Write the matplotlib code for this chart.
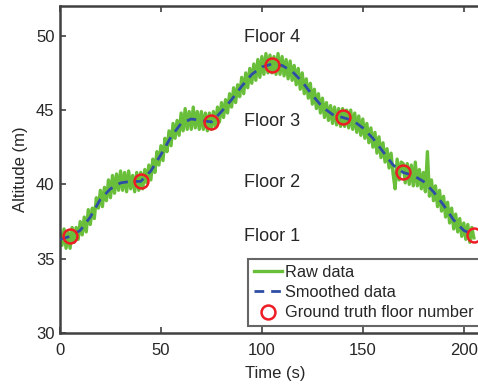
import numpy as np
import matplotlib
matplotlib.use("Agg")
import matplotlib.pyplot as plt

# raw barometer altitude, one sample per second (t = 0..205)
raw_alt = [
    36.8, 35.9, 37.0, 35.7, 36.8, 35.7, 37.1, 36.1, 37.1, 36.3,
    37.5, 36.6, 37.8, 36.8, 38.3, 37.3, 38.4, 37.7, 39.1, 38.4,
    39.6, 38.5, 39.8, 38.9, 40.3, 39.1, 40.6, 39.4, 40.7, 39.6,
    40.9, 39.6, 40.8, 39.5, 40.9, 39.7, 40.6, 39.5, 40.8, 39.6,
    40.8, 39.7, 41.0, 40.1, 41.3, 40.3, 41.7, 40.8, 42.2, 41.3,
    42.6, 41.6, 43.1, 42.2, 43.6, 42.6, 44.1, 43.1, 44.3, 43.3,
    44.8, 43.6, 45.1, 43.7, 44.9, 43.7, 45.2, 43.8, 44.9, 43.7,
    44.9, 43.7, 44.8, 43.6, 44.8, 43.7, 44.9, 43.9, 45.2, 44.2,
    45.5, 44.5, 45.7, 44.8, 46.1, 45.2, 46.5, 45.5, 46.7, 45.9,
    47.2, 46.1, 47.5, 46.5, 47.8, 46.8, 48.1, 47.0, 48.4, 47.2,
    48.6, 47.4, 48.8, 47.5, 48.7, 47.5, 48.6, 47.4, 48.8, 47.4,
    48.6, 47.3, 48.4, 47.1, 48.3, 47.0, 48.0, 46.7, 47.8, 46.4,
    47.5, 46.1, 47.1, 45.8, 46.8, 45.4, 46.4, 45.1, 46.1, 44.8,
    45.8, 44.5, 45.5, 44.3, 45.3, 44.1, 45.2, 44.0, 45.1, 43.9,
    45.1, 43.9, 45.0, 43.8, 45.0, 43.7, 44.8, 43.5, 44.6, 43.3,
    44.4, 43.1, 44.1, 42.8, 43.8, 42.5, 43.5, 42.1, 43.2, 41.8,
    42.8, 41.5, 42.4, 41.1, 42.1, 40.7, 39.7, 41.7, 40.3, 41.5,
    41.4, 40.1, 41.4, 40.0, 41.3, 39.9, 41.5, 39.9, 41.0, 39.7,
    40.8, 39.5, 42.2, 39.2, 40.3, 38.9, 39.9, 38.5, 39.6, 38.2,
    39.2, 37.8, 38.8, 37.4, 38.4, 37.0, 38.0, 36.8, 37.7, 36.5,
    37.4, 36.3, 37.3, 36.1, 37.1, 36.4,
]
raw_t = np.arange(len(raw_alt))

# smoothed altitude every 5 s
smooth_t = list(range(0, 206, 5))
smooth_alt = [
    36.3, 36.5, 36.9, 37.8, 39.0, 39.7, 40.1, 40.2, 40.2, 40.9,
    42.0, 43.2, 44.1, 44.4, 44.3, 44.2, 44.9, 45.7, 46.6, 47.4,
    47.9, 48.1, 48.0, 47.6, 46.9, 46.0, 45.2, 44.7, 44.5, 44.3,
    43.8, 43.1, 42.2, 41.3, 40.8, 40.6, 40.2, 39.5, 38.6, 37.6,
    36.9, 36.6,
]

# ground truth floor markers
gt_t = [5, 40, 75, 105, 140, 170, 205]
gt_alt = [36.5, 40.2, 44.2, 48.0, 44.5, 40.8, 36.6]

floor_names = ["Floor 1", "Floor 2", "Floor 3", "Floor 4"]
floor_alt = [36.5, 40.1, 44.2, 49.9]

plt.rcParams["font.family"] = ["Liberation Sans", "DejaVu Sans"]
txt = "#262626"
axc = "#404040"

fig = plt.figure(figsize=(4.78, 3.89), dpi=100)
ax = fig.add_axes([60 / 478, 56 / 389, 430 / 478, 327 / 389])

ax.plot(raw_t, raw_alt, color="#6abf3a", lw=2.4, label="Raw data", zorder=2)
ax.plot(smooth_t, smooth_alt, color="#2e4ea6", lw=2.0, ls=(0, (3.5, 2.5)),
        label="Smoothed data", zorder=3)
ax.plot(gt_t, gt_alt, ls="none", marker="o", ms=10, mfc="none", mec="#ee1c24",
        mew=1.8, label="Ground truth floor number", zorder=4)

for name, y in zip(floor_names, floor_alt):
    ax.text(105, y, name, ha="center", va="center", fontsize=13, color=txt)

ax.set_xlim(0, 213)
ax.set_ylim(30, 52)
ax.set_xticks([0, 50, 100, 150, 200])
ax.set_yticks([30, 35, 40, 45, 50])
ax.set_xlabel("Time (s)", fontsize=12, color=txt, labelpad=6)
ax.set_ylabel("Altitude (m)", fontsize=12, color=txt, labelpad=6)
ax.tick_params(direction="in", length=4, width=1.2, top=True, right=True,
               labelsize=12, colors=axc, labelcolor=txt)
ax.tick_params(axis="x", pad=7)
ax.tick_params(axis="y", pad=4)
for s in ax.spines.values():
    s.set_color(axc)
    s.set_linewidth(1.8)

leg = ax.legend(loc="lower left", bbox_to_anchor=(0.437, 0.021, 0.547, 0.2),
                mode="expand", fontsize=11.8, frameon=True, fancybox=False,
                handlelength=1.7, handletextpad=0.2, borderpad=0.35,
                labelspacing=0.32, borderaxespad=0)
leg.get_frame().set_edgecolor(axc)
leg.get_frame().set_linewidth(1.5)
for t in leg.get_texts():
    t.set_color(txt)

fig.savefig("out.png", dpi=100)
